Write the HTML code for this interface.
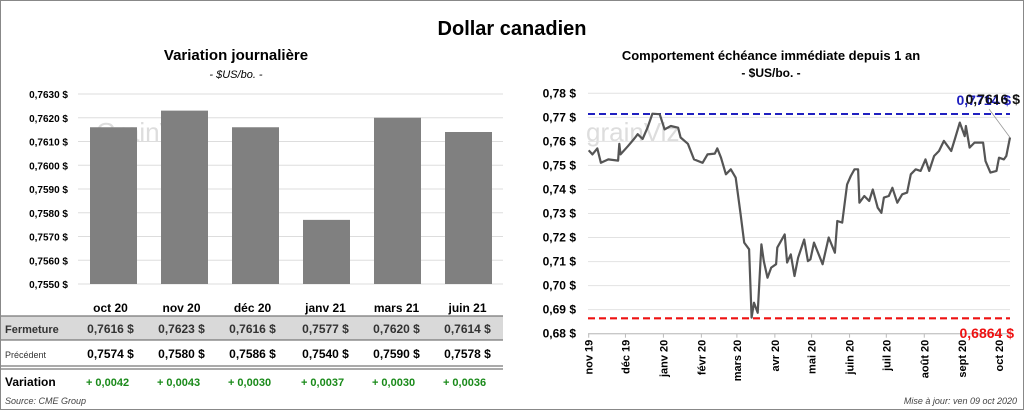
<!DOCTYPE html>
<html><head><meta charset="utf-8"><style>
body{margin:0;background:#fff;font-family:"Liberation Sans",sans-serif}
#root{position:relative;width:1022px;height:408px;border:1px solid #888;overflow:hidden}
</style></head><body>
<div id="root">
<svg width="1022" height="408" viewBox="0 0 1022 408">
<text x="511" y="34" text-anchor="middle" font-size="20" font-weight="bold">Dollar canadien</text>
<g id="left">
<text x="235" y="59" text-anchor="middle" font-size="15" font-weight="bold">Variation  journalière</text>
<text x="235" y="77" text-anchor="middle" font-size="11" font-style="italic">- $US/bo. -</text>
<text x="95" y="140" font-size="26" fill="#ddd">GrainViz</text>
</g>
<g id="right">
<text x="770" y="59" text-anchor="middle" font-size="13" font-weight="bold">Comportement échéance immédiate depuis 1 an</text>
<text x="770" y="76" text-anchor="middle" font-size="12" font-weight="bold">- $US/bo. -</text>
<text x="585" y="140" font-size="26" fill="#ddd">grainViz</text>
</g>
<g id="table"></g>
<text x="4" y="403" font-size="9" font-style="italic" fill="#444">Source: CME Group</text>
<text x="1016" y="403" text-anchor="end" font-size="9" font-style="italic" fill="#444">Mise à jour: ven 09 oct 2020</text>
</svg>
</div>
<script>
const NS="http://www.w3.org/2000/svg";
const barCats=["oct 20","nov 20","déc 20","janv 21","mars 21","juin 21"];
const barVals=[0.7616,0.7623,0.7616,0.7577,0.7620,0.7614];
const prevVals=[0.7574,0.7580,0.7586,0.7540,0.7590,0.7578];
const leftTicks=[0.7550,0.7560,0.7570,0.7580,0.7590,0.7600,0.7610,0.7620,0.7630];
const lineDays=[0,3,7,10,16,24,25,26,32,37,40,44,48,52,58,62,67,73,75,81,86,93,97,103,105,108,112,116,120,124,127,131,133,135,138,141,143,146,149,153,154,160,162,165,168,171,176,179,181,184,191,196,201,203,207,211,214,217,220,221,225,229,232,236,239,241,245,248,252,256,260,263,267,271,275,278,282,286,290,296,299,303,307,308,311,315,322,324,328,333,335,339,341,344];
const lineVals=[0.7563,0.7546,0.7571,0.7511,0.7525,0.752,0.759,0.7546,0.758,0.761,0.763,0.761,0.7657,0.7715,0.7713,0.765,0.7664,0.7657,0.7616,0.759,0.7525,0.7511,0.7546,0.7549,0.7571,0.7532,0.7463,0.7484,0.7449,0.7297,0.7179,0.7151,0.6867,0.6929,0.6887,0.7172,0.7102,0.7033,0.7075,0.7089,0.7158,0.7213,0.7096,0.713,0.704,0.7116,0.7192,0.7102,0.7109,0.7179,0.7089,0.72,0.7137,0.7269,0.7262,0.7421,0.7456,0.7484,0.7484,0.7345,0.7373,0.7352,0.74,0.7324,0.7303,0.7366,0.7373,0.7407,0.7345,0.738,0.7387,0.7463,0.7484,0.7477,0.7525,0.7477,0.7539,0.756,0.7602,0.756,0.761,0.7678,0.7622,0.7664,0.7574,0.7595,0.7595,0.7518,0.747,0.7477,0.7532,0.7525,0.7539,0.7616];
const rightTicks=[0.68,0.69,0.70,0.71,0.72,0.73,0.74,0.75,0.76,0.77,0.78];
const monthLabels=["nov 19","déc 19","janv 20","févr 20","mars 20","avr 20","mai 20","juin 20","juil 20","août 20","sept 20","oct 20"];
const monthDays=[0,30,61,92,121,152,182,213,243,274,305,335];
const highVal=0.7714, lowVal=0.6864, lastVal=0.7616;

function mk(parent,tag,attrs,text){const e=document.createElementNS(NS,tag);for(const k in attrs)e.setAttribute(k,attrs[k]);if(text!==undefined)e.textContent=text;parent.appendChild(e);return e;}
const fmt=(v,d)=>v.toFixed(d).replace('.',',');

// left bar chart
const L=document.getElementById('left');
const ly=v=>93+(0.7630-v)/0.0080*190;
const lx0=77,step=71;
leftTicks.forEach(t=>{
  const g=mk(L,'line',{x1:lx0,x2:502,y1:ly(t),y2:ly(t),stroke:'#ddd'});
  
  const tx=mk(L,'text',{x:67,y:ly(t)+4,'text-anchor':'end','font-size':10,'font-weight':'bold'},fmt(t,4)+' $');
  
});
barCats.forEach((c,i)=>{
  const cx=lx0+step*(i+0.5);
  const r=mk(L,'rect',{x:cx-23.5,y:ly(barVals[i]),width:47,height:ly(0.7550)-ly(barVals[i]),fill:'#808080'});
  
});

// table
const T=document.getElementById('table');
const band=mk(T,'rect',{x:0,y:315,width:502,height:24,fill:'#d9d9d9'});

[[315],[339],[365],[368]].forEach(([y])=>{const l=mk(T,'line',{x1:0,x2:502,y1:y,y2:y,stroke:'#777','stroke-width':1.2});});
const rl=[["Fermeture",332,11,'bold','#333'],["Précédent",357,9,'normal','#333'],["Variation",385,12,'bold','#000']];
rl.forEach(r=>{const t=mk(T,'text',{x:4,y:r[1],'font-size':r[2],'font-weight':r[3],fill:r[4]},r[0]);});
barCats.forEach((c,i)=>{
  const cx=lx0+step*(i+0.5)-6+(i>2?2:0);
  let t=mk(T,'text',{x:cx+3,y:311,'text-anchor':'middle','font-size':12,'font-weight':'bold'},c);
  
  t=mk(T,'text',{x:cx+3,y:332,'text-anchor':'middle','font-size':12,'font-weight':'bold',fill:'#333','xml:space':'preserve'},fmt(barVals[i],4)+'  $');
  
  t=mk(T,'text',{x:cx+3,y:357,'text-anchor':'middle','font-size':12,'font-weight':'bold','xml:space':'preserve'},fmt(prevVals[i],4)+'  $');
  
  t=mk(T,'text',{x:cx,y:385,'text-anchor':'middle','font-size':11,'font-weight':'bold',fill:'#1a8a1a'},'+ '+fmt(barVals[i]-prevVals[i],4));
  
});

// right line chart
const R=document.getElementById('right');
const rx=d=>587.7+d/344*421.3;
const ry=v=>92.3+(0.78-v)/0.10*240.4;
rightTicks.forEach(t=>{
  const g=mk(R,'line',{x1:587,x2:1009,y1:ry(t),y2:ry(t),stroke:'#e2e2e2'});
  
  const tx=mk(R,'text',{x:575,y:ry(t)+4,'text-anchor':'end','font-size':12,'font-weight':'bold'},fmt(t,2)+' $');
  
});
const ax=mk(R,'line',{x1:587,x2:1009,y1:ry(0.68),y2:ry(0.68),stroke:'#bbb'});

monthLabels.forEach((m,i)=>{
  const x=rx(monthDays[i]);
  const tk=mk(R,'line',{x1:x,x2:x,y1:ry(0.68),y2:ry(0.68)+4,stroke:'#bbb'});
  
  const t=mk(R,'text',{x:0,y:0,'text-anchor':'end','font-size':11,'font-weight':'bold',transform:`translate(${x+4},${ry(0.68)+6}) rotate(-90)`},m);
  
});
let hl=mk(R,'line',{x1:587,x2:1009,y1:ry(highVal),y2:ry(highVal),stroke:'#2020c0','stroke-width':2,'stroke-dasharray':'7,4'});

hl=mk(R,'line',{x1:587,x2:1009,y1:ry(lowVal),y2:ry(lowVal),stroke:'#ee1111','stroke-width':2.2,'stroke-dasharray':'7,4'});

const pts=lineDays.map((d,i)=>rx(d).toFixed(1)+','+ry(lineVals[i]).toFixed(1)).join(' ');
const pl=mk(R,'polyline',{points:pts,fill:'none',stroke:'#555','stroke-width':2.2,'stroke-linejoin':'round'});

const ld=mk(R,'line',{x1:rx(344),y1:ry(lastVal),x2:988,y2:108,stroke:'#999','stroke-width':0.8});

let lb=mk(R,'text',{x:1010,y:104,'text-anchor':'end','font-size':14,'font-weight':'bold',fill:'#2020c0'},fmt(highVal,4)+' $');

lb=mk(R,'text',{x:1019,y:103,'text-anchor':'end','font-size':14,'font-weight':'bold',fill:'#111'},fmt(lastVal,4)+' $');

lb=mk(R,'text',{x:1013,y:337,'text-anchor':'end','font-size':14,'font-weight':'bold',fill:'#ee1111'},fmt(lowVal,4)+' $');

</script>
</body></html>
